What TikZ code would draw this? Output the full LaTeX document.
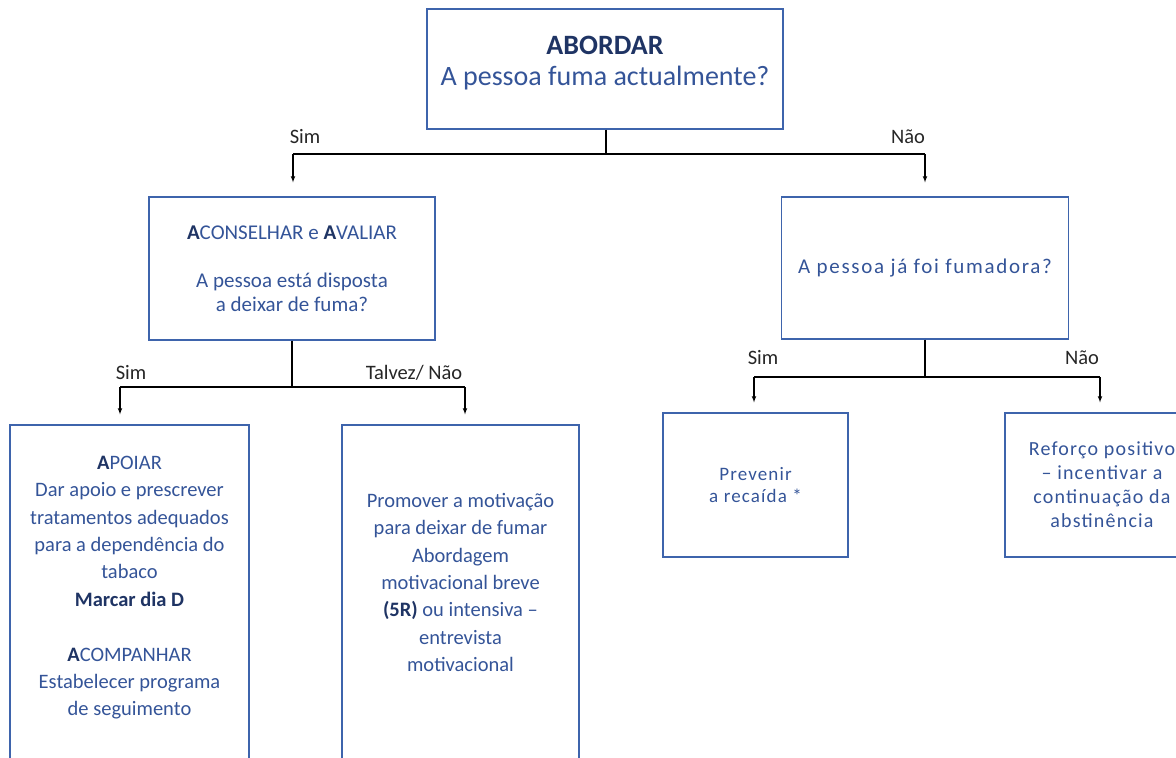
\documentclass[tikz,border=0pt]{standalone}
\usepackage{fontspec}
\setmainfont{Carlito}
\usetikzlibrary{arrows,positioning}
\definecolor{boxblue}{RGB}{62,100,172}
\definecolor{txtblue}{RGB}{52,84,152}
\definecolor{navy}{RGB}{31,52,100}
\newcommand{\bA}{\textcolor{navy}{\textbf{A}}}

\begin{document}
\begin{tikzpicture}[x=1pt,y=-1pt,>=latex,
  box/.style={draw=boxblue,line width=1.3pt,text=txtblue,align=center,inner sep=0pt,font=\fontsize{21}{24}\selectfont},
  txt/.style={text=txtblue,align=center,inner sep=0pt,font=\fontsize{20.5}{27.4}\selectfont},
  lbl/.style={text=black!85,inner sep=0pt,font=\fontsize{20.5}{22}\selectfont},
  conn/.style={line width=1.1pt},
  spaced/.style={font=\fontsize{20}{24}\selectfont\addfontfeatures{LetterSpace=6}}]
\useasboundingbox (0,0) rectangle (1176,758);
\clip (0,0) rectangle (1176,758);

\node[box,name=abordar,minimum width=356pt,minimum height=120pt] at (605,69) {};
\node[txt,name=abordartxt,below=28pt of abordar.north,font=\fontsize{28}{31}\selectfont] {\textcolor{navy}{\textbf{ABORDAR}}\\A pessoa fuma actualmente?};

\node[box,name=aconselhar,minimum width=286pt,minimum height=143pt] at (292,268.5) {\bA CONSELHAR e \bA VALIAR\\[24pt]A pessoa está disposta\\a deixar de fuma?};
\node[box,spaced,name=fumadora,minimum width=287pt,minimum height=142pt,font=\fontsize{21}{24}\selectfont\addfontfeatures{LetterSpace=8}] at (925,268) {A pessoa já foi fumadora?};

\node[box,name=apoiar,minimum width=239pt,minimum height=375pt] at (129.5,612.5) {};
\node[box,name=promover,minimum width=237pt,minimum height=375pt] at (460.5,612.5) {};
\node[box,spaced,name=prevenir,minimum width=185pt,minimum height=144pt,font=\fontsize{19}{22}\selectfont\addfontfeatures{LetterSpace=6}] at (755.5,485) {Prevenir\\a recaída *};
\node[box,spaced,name=reforco,minimum width=194pt,minimum height=144pt] at (1102,485) {Reforço positivo\\– incentivar a\\continuação da\\abstinência};

\node[txt,name=apoiartxt,below=31.5pt of apoiar.north] {\bA POIAR\\Dar apoio e prescrever\\tratamentos adequados\\para a dependência do\\tabaco\\\textcolor{navy}{\textbf{Marcar dia D}}\\[27.4pt]\bA COMPANHAR\\Estabelecer programa\\de seguimento};
\node[txt,name=promovertxt,below=68.5pt of promover.north] {Promover a motivação\\para deixar de fumar\\Abordagem\\motivacional breve\\\textcolor{navy}{\textbf{(5R)}} ou intensiva –\\entrevista\\motivacional};

%\node[name=note] at (600,740) {*};

\coordinate (j1) at (606,154);
\coordinate (j1l) at (293,154);
\coordinate (j1r) at (925,154);
\coordinate (j2) at (292,387);
\coordinate (j2l) at (120,387);
\coordinate (j2r) at (465,387);
\coordinate (j3) at (925,377);
\coordinate (j3l) at (754,377);
\coordinate (j3r) at (1100,377);

\draw[conn] (abordar.south -| j1) -- (j1) ;
\draw[conn] (j1l) -- (j1r) ;
\draw[conn,->,shorten >=14pt] (j1l) -- (j1l |- aconselhar.north) ;
\draw[conn,->,shorten >=14pt] (j1r) -- (j1r |- fumadora.north) ;

\draw[conn] (aconselhar) -- (j2) ;
\draw[conn] (j2l) -- (j2r) ;
\draw[conn,->,shorten >=10pt] (j2l) -- (j2l |- apoiar.north) ;
\draw[conn,->,shorten >=10pt] (j2r) -- (j2r |- promover.north) ;

\draw[conn] (fumadora) -- (j3) ;
\draw[conn] (j3l) -- (j3r) ;
\draw[conn,->,shorten >=10pt] (j3l) -- (j3l |- prevenir.north) ;
\draw[conn,->,shorten >=10pt] (j3r) -- (j3r |- reforco.north) ;

\node[lbl,name=simA] at (305,137) {Sim};
\node[lbl,name=naoA] at (908,137) {Não};
\node[lbl,name=simB] at (131,373) {Sim};
\node[lbl,name=talvez] at (414,373) {Talvez/ Não};
\node[lbl,name=simC] at (763,358) {Sim};
\node[lbl,name=naoC] at (1082,358) {Não};
\end{tikzpicture}
\end{document}
